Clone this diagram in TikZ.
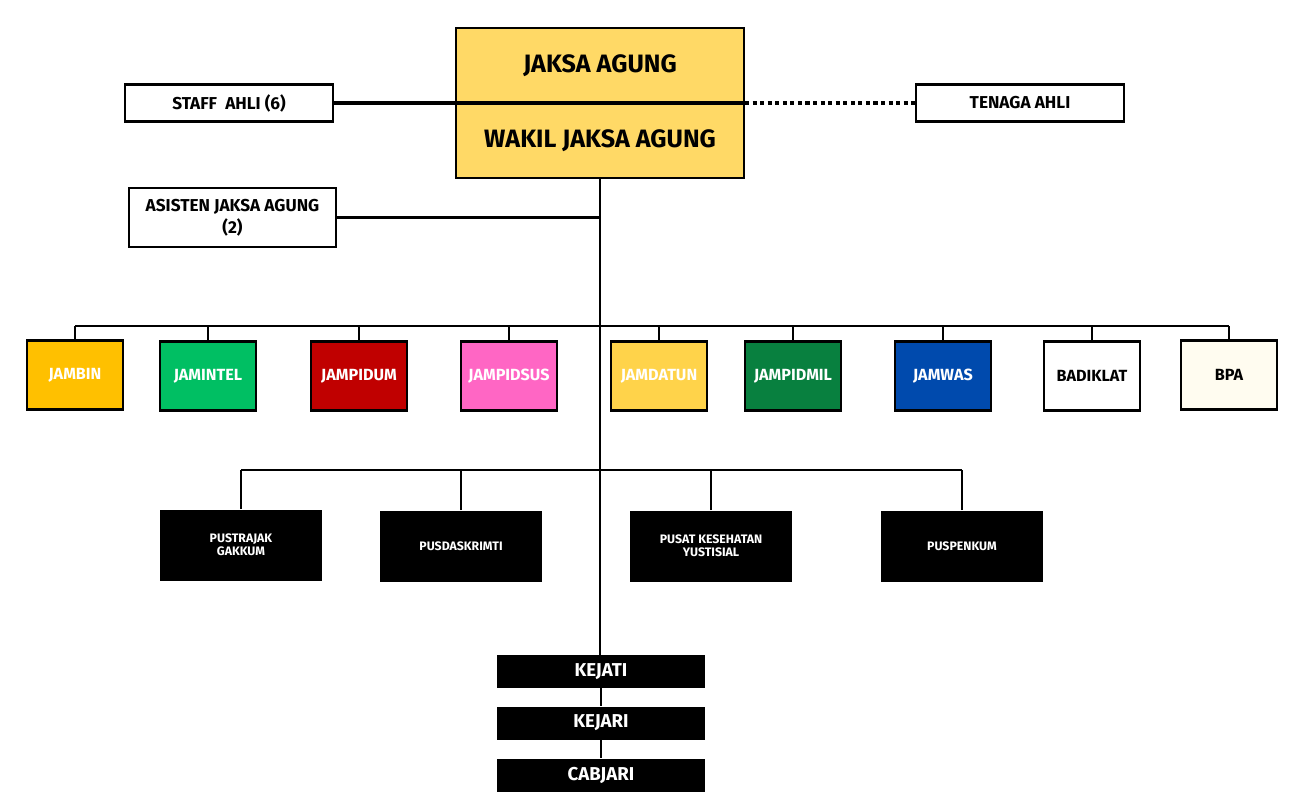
\documentclass[tikz,border=0pt]{standalone}
\usepackage{fontspec}
\setmainfont{Fira Sans}
\definecolor{agungyellow}{HTML}{FFD966}
\definecolor{jambincol}{HTML}{FFC000}
\definecolor{jamintelcol}{HTML}{00BF63}
\definecolor{jampidumcol}{HTML}{C00000}
\definecolor{jampidsuscol}{HTML}{FF66C4}
\definecolor{jamdatuncol}{HTML}{FFD34A}
\definecolor{jampidmilcol}{HTML}{08803F}
\definecolor{jamwascol}{HTML}{004AAD}
\definecolor{bpacol}{HTML}{FFFCF0}
\begin{document}
\begin{tikzpicture}[x=0.02cm,y=-0.02cm]
    \useasboundingbox (0,0) rectangle (1290,791);
    \coordinate (bus1) at (600,326);
    \coordinate (bus2) at (600,470);

    \begin{scope}[every node/.style={draw, fill=agungyellow, line width=1.2pt, minimum width=5.76cm, minimum height=1.5cm, inner sep=0pt, font=\fontsize{14.3}{16}\selectfont\bfseries}]
        \node (ja) at (600,65.5) {JAKSA AGUNG};
        \node (wja) at (600,140.5) {WAKIL JAKSA AGUNG};
    \end{scope}

    \begin{scope}[every node/.style={draw, fill=white, line width=1.2pt, minimum width=4.16cm, minimum height=0.74cm, inner sep=0pt, align=center, font=\fontsize{9.8}{12.5}\selectfont\bfseries}]
        \node (staff) at (229,103) {STAFF\ \ AHLI (6)};
        \node (tenaga) at (1020,103) {TENAGA AHLI};
        \node[minimum width=4.14cm, minimum height=1.18cm] (asisten) at (232.5,217.5) {ASISTEN JAKSA AGUNG\\(2)};
    \end{scope}

    \begin{scope}[every node/.style={draw, line width=1.2pt, minimum width=1.92cm, minimum height=1.38cm, inner sep=0pt, text=white, font=\fontsize{9.2}{10}\selectfont\bfseries}]
        \node[fill=jambincol] (jambin) at (75,375) {JAMBIN};
        \node[fill=jamintelcol] (jamintel) at (208,376) {JAMINTEL};
        \node[fill=jampidumcol] (jampidum) at (359,376) {JAMPIDUM};
        \node[fill=jampidsuscol] (jampidsus) at (509,376) {JAMPIDSUS};
        \node[fill=jamdatuncol] (jamdatun) at (659,376) {JAMDATUN};
        \node[fill=jampidmilcol] (jampidmil) at (793,376) {JAMPIDMIL};
        \node[fill=jamwascol] (jamwas) at (943,376) {JAMWAS};
        \node[fill=white, text=black] (badiklat) at (1092,376) {BADIKLAT};
        \node[fill=bpacol, text=black] (bpa) at (1229,375) {BPA};
    \end{scope}

    \begin{scope}[every node/.style={fill=black, minimum width=3.24cm, minimum height=1.42cm, inner sep=0pt, align=center, text=white, font=\fontsize{7}{7.2}\selectfont\bfseries}]
        \node (pustrajak) at (241,545) {PUSTRAJAK\\GAKKUM};
        \node (pusdaskrimti) at (461,546) {PUSDASKRIMTI};
        \node (puskes) at (711,546) {PUSAT KESEHATAN\\YUSTISIAL};
        \node (puspenkum) at (962,546) {PUSPENKUM};
    \end{scope}

    \begin{scope}[every node/.style={fill=black, minimum width=4.18cm, minimum height=0.66cm, inner sep=0pt, text=white, font=\fontsize{10.6}{12}\selectfont\bfseries}]
        \node (kejati) at (601,671.5) {KEJATI};
        \node (kejari) at (601,723) {KEJARI};
        \node (cabjari) at (601,775) {CABJARI};
    \end{scope}

    \begin{scope}[every edge/.style={draw, line width=1.3pt}]
        \path [-] (wja.south) edge (wja.south |- kejati.north);
        \path [-] (asisten.east) edge (asisten.east -| wja.south);
        \path [-] (kejati.south) edge (kejari.north);
        \path [-] (kejari.south) edge (cabjari.north);

        \path [-] (jambin.north |- bus1) edge (bpa.north |- bus1);
        \path [-] (jambin.north) edge (jambin.north |- bus1);
        \path [-] (jamintel.north) edge (jamintel.north |- bus1);
        \path [-] (jampidum.north) edge (jampidum.north |- bus1);
        \path [-] (jampidsus.north) edge (jampidsus.north |- bus1);
        \path [-] (jamdatun.north) edge (jamdatun.north |- bus1);
        \path [-] (jampidmil.north) edge (jampidmil.north |- bus1);
        \path [-] (jamwas.north) edge (jamwas.north |- bus1);
        \path [-] (badiklat.north) edge (badiklat.north |- bus1);
        \path [-] (bpa.north) edge (bpa.north |- bus1);

        \path [-] (pustrajak.north |- bus2) edge (puspenkum.north |- bus2);
        \path [-] (pustrajak.north) edge (pustrajak.north |- bus2);
        \path [-] (pusdaskrimti.north) edge (pusdaskrimti.north |- bus2);
        \path [-] (puskes.north) edge (puskes.north |- bus2);
        \path [-] (puspenkum.north) edge (puspenkum.north |- bus2);
    \end{scope}

    \path [draw, line width=2.3pt] (staff.east) -- (staff.east -| wja.east);
    \path [draw, line width=2.3pt, dash pattern=on 2.3pt off 2pt] (staff.east -| wja.east) -- (tenaga.west);
\end{tikzpicture}
\end{document}
